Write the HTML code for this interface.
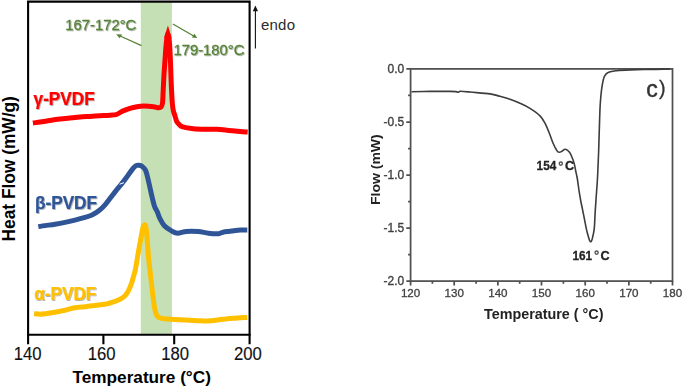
<!DOCTYPE html>
<html><head><meta charset="utf-8"><style>
html,body{margin:0;padding:0;background:#fff;width:685px;height:389px;overflow:hidden;}
svg{display:block;}
text{font-family:"Liberation Sans",sans-serif;}
</style></head><body>
<svg width="685" height="389" viewBox="0 0 685 389">
<rect width="685" height="389" fill="#fff"/>
<defs>
<filter id="sh" x="-10%" y="-20%" width="130%" height="150%"><feDropShadow dx="0.8" dy="0.9" stdDeviation="0.6" flood-color="#000" flood-opacity="0.35"/></filter>
<filter id="bl" x="-5%" y="-5%" width="110%" height="110%"><feGaussianBlur stdDeviation="0.45"/></filter>
</defs>
<rect x="140.8" y="2.4" width="31.1" height="331.6" fill="#C5E0B4"/>
<g fill="none" stroke-width="5" stroke-linecap="butt" stroke-linejoin="round">
<path d="M32.9 123.0 C34.1 122.8 37.1 122.5 40.0 122.1 C42.9 121.7 46.7 121.0 50.0 120.5 C53.3 120.0 56.7 119.5 60.0 119.1 C63.3 118.7 66.7 118.3 70.0 118.0 C73.3 117.7 76.7 117.3 80.0 117.0 C83.3 116.7 86.7 116.6 90.0 116.4 C93.3 116.2 96.7 116.0 100.0 115.8 C103.3 115.6 107.3 115.4 110.0 115.2 C112.7 115.0 114.0 115.3 116.0 114.7 C118.0 114.1 119.6 112.5 121.9 111.4 C124.2 110.4 127.5 109.2 130.0 108.4 C132.5 107.6 134.7 107.1 137.0 106.7 C139.3 106.3 141.3 106.1 144.0 106.1 C146.7 106.1 151.0 106.4 153.4 106.7 C155.8 107.0 157.3 107.8 158.6 107.8 C159.9 107.8 160.7 107.6 161.3 106.8 C162.0 106.0 162.2 105.0 162.5 103.0 C162.8 101.0 162.8 99.2 163.0 95.0 C163.2 90.8 163.5 83.8 163.8 78.0 C164.1 72.2 164.6 65.8 165.0 60.0 C165.4 54.2 165.8 47.4 166.3 43.0 C166.8 38.6 167.4 33.5 167.9 33.5 C168.4 33.5 169.1 38.6 169.5 43.0 C169.9 47.4 170.1 53.8 170.4 60.0 C170.7 66.2 170.9 74.2 171.1 80.0 C171.3 85.8 171.6 90.8 171.8 95.0 C172.0 99.2 172.2 102.3 172.5 105.0 C172.8 107.7 172.9 109.0 173.4 111.0 C173.9 113.0 174.8 115.2 175.3 117.0 C175.9 118.8 176.0 120.2 176.7 121.5 C177.4 122.8 178.3 123.7 179.3 124.6 C180.3 125.5 180.5 126.2 182.8 126.9 C185.2 127.6 189.7 128.3 193.4 128.7 C197.1 129.1 201.1 129.2 205.0 129.3 C208.9 129.4 212.8 129.1 216.7 129.3 C220.6 129.5 224.5 130.0 228.4 130.4 C232.3 130.8 236.9 131.3 240.1 131.6 C243.3 131.9 246.4 131.9 247.7 132.0" stroke="#FF0000"/>
<path d="M38.3 226.6 C39.4 226.4 42.2 226.0 45.0 225.6 C47.8 225.2 51.7 224.7 55.0 224.2 C58.3 223.7 61.7 223.1 65.0 222.4 C68.3 221.7 71.7 220.9 75.0 220.1 C78.3 219.3 82.2 218.2 85.0 217.4 C87.8 216.6 90.1 215.8 92.0 215.0 C93.9 214.2 95.1 213.3 96.5 212.4 C97.9 211.5 99.1 210.7 100.5 209.4 C101.9 208.2 103.6 206.5 105.0 204.9 C106.4 203.3 107.9 201.1 109.0 199.7 C110.1 198.3 110.1 198.3 111.5 196.5 C112.9 194.7 115.6 191.2 117.3 189.0 C119.0 186.8 120.0 185.9 121.8 183.6 C123.6 181.3 126.2 177.8 128.1 175.2 C130.0 172.6 132.0 169.8 133.3 168.2 C134.6 166.6 135.1 166.1 136.0 165.6 C136.9 165.1 138.0 165.2 139.0 165.3 C140.0 165.4 140.9 165.5 142.0 166.3 C143.1 167.2 144.6 168.2 145.6 170.4 C146.6 172.6 147.2 175.8 148.2 179.7 C149.1 183.6 150.3 189.2 151.3 193.6 C152.3 198.0 153.4 202.8 154.4 205.9 C155.4 209.0 156.6 210.1 157.5 212.2 C158.4 214.3 158.6 216.0 159.8 218.3 C161.0 220.6 162.6 223.9 164.6 226.0 C166.6 228.1 169.7 229.9 171.9 231.1 C174.1 232.3 175.3 233.1 177.7 233.2 C180.1 233.2 183.1 231.7 186.5 231.4 C189.9 231.1 194.5 231.2 198.2 231.5 C201.8 231.8 205.0 232.8 208.4 233.2 C211.8 233.6 216.2 233.9 218.6 233.7 C221.0 233.5 220.8 232.6 223.0 232.2 C225.2 231.8 228.9 231.5 231.8 231.1 C234.7 230.7 237.9 230.2 240.5 230.0 C243.1 229.8 246.2 230.0 247.3 230.0" stroke="#2F5597"/>
<path d="M34.1 313.7 C35.1 313.8 37.9 314.3 40.0 314.3 C42.1 314.3 44.5 313.8 47.0 313.5 C49.5 313.2 52.0 312.9 55.0 312.3 C58.0 311.8 61.7 310.9 65.0 310.2 C68.3 309.4 71.7 308.4 75.0 307.8 C78.3 307.2 81.7 307.1 85.0 306.7 C88.3 306.3 91.7 305.9 95.0 305.5 C98.3 305.1 102.5 304.7 105.0 304.3 C107.5 303.9 108.3 303.5 110.0 303.0 C111.7 302.5 113.3 302.0 115.0 301.4 C116.7 300.8 118.5 300.1 120.0 299.3 C121.5 298.5 122.8 297.7 124.0 296.7 C125.2 295.7 126.1 294.5 127.0 293.1 C127.9 291.7 128.8 290.1 129.5 288.5 C130.2 286.9 130.9 285.1 131.5 283.4 C132.1 281.7 132.5 279.9 133.0 278.2 C133.5 276.5 134.0 274.9 134.5 273.1 C135.0 271.3 135.2 270.9 135.8 267.5 C136.4 264.1 137.4 257.7 138.3 252.5 C139.2 247.3 140.4 240.8 141.2 236.5 C142.0 232.2 142.6 228.8 143.2 226.8 C143.8 224.9 144.1 224.9 144.5 224.8 C144.9 224.8 145.3 224.5 145.7 226.5 C146.1 228.5 146.5 231.8 147.0 237.0 C147.5 242.2 148.0 251.7 148.6 258.0 C149.2 264.3 149.9 269.7 150.5 275.0 C151.1 280.3 151.6 285.3 152.2 290.0 C152.8 294.7 153.3 299.4 153.8 303.0 C154.3 306.6 154.7 309.2 155.3 311.5 C155.9 313.8 156.5 315.5 157.6 316.6 C158.7 317.8 159.6 317.9 162.0 318.4 C164.4 318.8 167.8 319.0 171.9 319.3 C176.0 319.6 181.6 319.8 186.5 320.0 C191.4 320.2 197.0 320.7 201.1 320.8 C205.2 320.9 207.2 321.1 211.3 320.8 C215.4 320.5 221.5 319.3 225.9 318.9 C230.3 318.4 234.0 318.4 237.6 318.1 C241.2 317.9 245.7 317.5 247.3 317.4" stroke="#FFC000"/>
</g>
<path d="M164.1 38 L167.9 25.4 L171.7 38 Z" fill="#FF0000"/>
<path d="M119.6 184.2 L124 182.7" stroke="#fff" stroke-width="1"/>
<g stroke="#000" stroke-width="2.1" fill="none">
<path d="M28.1 344.2 V1.6 H249.6 V344.2"/>
<path d="M27 334.8 H250.6"/>
<path d="M103.4 334.8 V344.2 M174.2 334.8 V344.2"/>
</g>
<g font-size="17.6" fill="#111" stroke="#111" stroke-width="0.15" text-anchor="middle">
<text transform="translate(27.6 360.3) scale(0.95 1)">140</text>
<text transform="translate(101.7 360.3) scale(0.95 1)">160</text>
<text transform="translate(175.2 360.3) scale(0.95 1)">180</text>
<text transform="translate(247.9 360.3) scale(0.95 1)">200</text>
</g>
<text x="141.7" y="382.5" font-size="17.2" font-weight="bold" text-anchor="middle" fill="#000">Temperature (°C)</text>
<text transform="translate(14.6 168.8) rotate(-90) scale(1 1.09)" font-size="17.35" font-weight="bold" text-anchor="middle" fill="#000">Heat Flow (mW/g)</text>
<g font-size="17.8" font-weight="bold" filter="url(#sh)" stroke-width="0.25">
<text transform="translate(33.6 104.9) scale(0.965 1)" fill="#FF0000" stroke="#FF0000">γ-PVDF</text>
<text transform="translate(35.0 208.6) scale(0.965 1)" fill="#2F5597" stroke="#2F5597">β-PVDF</text>
<text transform="translate(34.2 299.7) scale(0.965 1)" fill="#FFC000" stroke="#FFC000">α-PVDF</text>
</g>
<g font-size="14.85" fill="#548235" stroke="#548235" stroke-width="0.28" filter="url(#sh)">
<text x="65.2" y="30.4">167-172°C</text>
<text x="173.4" y="54.8">179-180°C</text>
</g>
<g stroke="#548235" stroke-width="1.2" fill="#548235">
<path d="M141.5 45.6 L119 35.5" fill="none"/>
<path d="M116.2 34.2 L122.2 34.4 L119.6 38.2 Z" stroke="none"/>
<path d="M172.9 24.1 L195 36.8" fill="none"/>
<path d="M197.3 38.1 L191.9 37.5 L194.4 33.8 Z" stroke="none"/>
</g>
<path d="M255.4 48.6 V9" stroke="#111" stroke-width="1.1"/>
<path d="M255.4 5.6 L252.8 11.2 L258 11.2 Z" fill="#111"/>
<text x="261" y="30.4" font-size="15" fill="#2a2a2a" letter-spacing="0.2">endo</text>
<g filter="url(#bl)"><g stroke="#505050" stroke-width="1.75" fill="none">
<rect x="410.6" y="68.9" width="261.9" height="212.2"/>
<path d="M406.3 68.9 H410.6 M408.1 95.4 H410.6 M406.3 122.0 H410.6 M408.1 148.5 H410.6 M406.3 175.0 H410.6 M408.1 201.5 H410.6 M406.3 228.1 H410.6 M408.1 254.6 H410.6 M406.3 281.1 H410.6 M410.6 281.1 V285.6 M432.4 281.1 V283.8 M454.2 281.1 V285.6 M476.1 281.1 V283.8 M497.9 281.1 V285.6 M519.7 281.1 V283.8 M541.5 281.1 V285.6 M563.4 281.1 V283.8 M585.2 281.1 V285.6 M607.0 281.1 V283.8 M628.9 281.1 V285.6 M650.7 281.1 V283.8 M672.5 281.1 V285.6"/>
</g>
<path d="M411.5 91.7 C414.6 91.7 423.6 91.5 430.0 91.4 C436.4 91.4 445.7 91.4 450.0 91.4 C454.3 91.4 454.6 91.4 456.0 91.6 C457.4 91.8 457.8 92.4 458.5 92.3 C459.2 92.2 458.6 91.2 460.5 91.2 C462.4 91.2 465.1 91.5 470.0 92.0 C474.9 92.5 485.0 93.2 490.0 93.9 C495.0 94.6 496.7 95.4 500.0 96.3 C503.3 97.2 506.7 98.1 510.0 99.3 C513.3 100.5 516.7 101.8 520.0 103.3 C523.3 104.8 526.7 106.3 530.0 108.4 C533.3 110.5 537.5 113.4 540.0 115.9 C542.5 118.4 543.3 120.0 545.0 123.2 C546.7 126.4 548.7 131.7 550.0 135.0 C551.3 138.3 551.9 140.4 553.0 143.0 C554.1 145.6 555.7 148.8 556.7 150.3 C557.7 151.9 558.3 152.2 559.2 152.3 C560.1 152.5 561.0 151.7 562.0 151.2 C563.0 150.7 564.1 149.0 565.4 149.2 C566.6 149.4 568.4 150.9 569.5 152.3 C570.6 153.7 571.3 155.6 572.1 157.5 C572.9 159.4 573.6 161.4 574.2 163.6 C574.8 165.8 575.2 168.3 575.7 170.8 C576.2 173.3 576.8 175.6 577.3 178.5 C577.8 181.4 578.2 184.9 578.7 188.5 C579.2 192.1 580.0 196.5 580.6 200.1 C581.2 203.7 582.0 206.6 582.6 209.8 C583.2 213.0 583.9 216.2 584.5 219.4 C585.1 222.6 585.8 226.2 586.4 229.1 C587.0 232.0 587.9 234.9 588.4 236.8 C588.9 238.7 589.2 239.7 589.6 240.5 C590.0 241.3 590.2 241.7 590.5 241.8 C590.8 241.9 591.1 241.5 591.4 241.0 C591.7 240.5 591.8 240.6 592.3 238.6 C592.8 236.6 593.7 233.3 594.2 229.1 C594.7 224.9 594.8 218.8 595.1 213.6 C595.4 208.4 595.8 203.0 596.1 198.2 C596.4 193.4 596.8 189.1 597.1 184.7 C597.4 180.3 597.5 177.8 597.8 172.0 C598.1 166.2 598.4 158.7 598.7 150.0 C599.0 141.3 599.3 127.8 599.6 120.0 C599.9 112.2 599.9 108.8 600.3 103.2 C600.7 97.7 601.3 91.2 602.0 86.7 C602.7 82.2 603.3 78.8 604.4 76.4 C605.5 74.0 606.5 73.2 608.6 72.3 C610.7 71.3 613.2 71.1 616.8 70.7 C620.4 70.3 624.5 70.1 630.0 69.9 C635.5 69.7 643.2 69.6 650.0 69.4 C656.8 69.2 667.1 69.1 670.5 69.0" fill="none" stroke="#3c3c3c" stroke-width="1.6" stroke-linejoin="round"/>
<g font-size="12" fill="#404040" stroke="#404040" stroke-width="0.35" text-anchor="end">
<text x="404.2" y="73.1">0.0</text>
<text x="404.2" y="126.2">-0.5</text>
<text x="404.2" y="179.2">-1.0</text>
<text x="404.2" y="232.2">-1.5</text>
<text x="404.2" y="285.3">-2.0</text>
</g>
<g font-size="11.6" fill="#404040" stroke="#404040" stroke-width="0.3" text-anchor="middle">
<text x="410.6" y="297.3">120</text>
<text x="454.2" y="297.3">130</text>
<text x="497.9" y="297.3">140</text>
<text x="541.5" y="297.3">150</text>
<text x="585.2" y="297.3">160</text>
<text x="628.9" y="297.3">170</text>
<text x="672.5" y="297.3">180</text>
</g>
<text x="543.7" y="318.7" font-size="14.35" font-weight="bold" text-anchor="middle" fill="#222">Temperature ( °C)</text>
<text transform="translate(379.9 169.65) rotate(-90) scale(1.03 1)" font-size="13.6" font-weight="bold" text-anchor="middle" fill="#222">Flow (mW)</text>
<g font-size="12.7" font-weight="bold" fill="#222" stroke="#222" stroke-width="0.3">
<text transform="translate(536.6 169.9) scale(0.93 1)">154</text>
<text x="565" y="169.9">C</text>
<text transform="translate(572.4 259.5) scale(0.93 1)">161</text>
<text x="600.4" y="259.5">C</text>
</g>
<g fill="none" stroke="#555" stroke-width="1.35">
<circle cx="560.8" cy="163.6" r="1.6"/>
<circle cx="596.6" cy="252.6" r="1.6"/>
</g>
<text x="646.2" y="97" font-size="23" fill="#333" stroke="#333" stroke-width="0.45">c</text>
<text x="659.1" y="95.3" font-size="19.8" fill="#333" stroke="#333" stroke-width="0.3">)</text></g>
</svg>
</body></html>
